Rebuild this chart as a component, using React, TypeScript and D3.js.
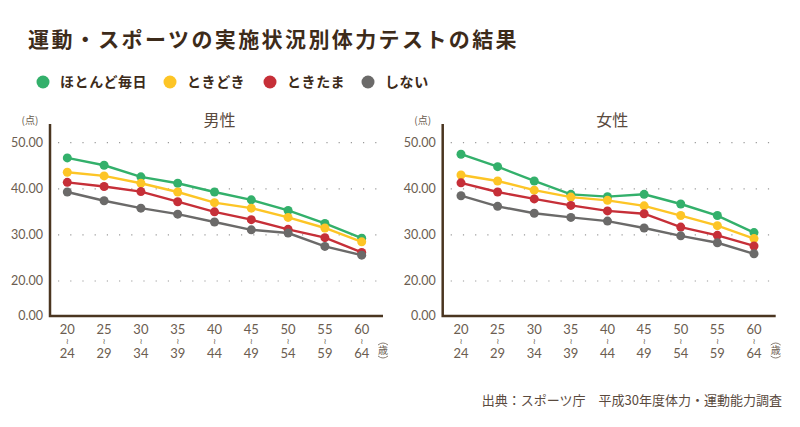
import * as d3 from 'd3';

const ages = ['20', '25', '30', '35', '40', '45', '50', '55', '60'];
const agesEnd = ['24', '29', '34', '39', '44', '49', '54', '59', '64'];
const yTicks = [0, 20, 30, 40, 50];

const seriesNames = ['ほとんど毎日', 'ときどき', 'ときたま', 'しない'];
const seriesColors = ['#33b06b', '#fdc526', '#c62f38', '#6b6a69'];

const maleDaily = [46.7, 45.1, 42.6, 41.2, 39.3, 37.6, 35.3, 32.5, 29.3];
const maleSometimes = [43.6, 42.8, 41.2, 39.3, 37.0, 35.8, 33.8, 31.5, 28.5];
const maleOccasional = [41.4, 40.5, 39.4, 37.2, 35.0, 33.3, 31.2, 29.4, 26.2];
const maleNone = [39.3, 37.4, 35.8, 34.5, 32.8, 31.1, 30.4, 27.5, 25.6];

const femaleDaily = [47.5, 44.8, 41.7, 38.8, 38.3, 38.8, 36.7, 34.2, 30.5];
const femaleSometimes = [43.0, 41.7, 39.7, 38.2, 37.5, 36.3, 34.2, 32.0, 29.2];
const femaleOccasional = [41.3, 39.3, 37.8, 36.4, 35.2, 34.6, 31.7, 29.9, 27.6];
const femaleNone = [38.5, 36.2, 34.7, 33.8, 33.0, 31.5, 29.8, 28.3, 25.9];

const FONT = "'Noto Sans CJK JP', 'Noto Sans', sans-serif";
const TEXT = '#6b5d50';
const AXIS = '#4a3520';

// broken axis: 0-20 squeezed
const yScale = d3.scaleLinear().domain([0, 20, 50]).range([316, 281, 142.7]);

interface PanelProps {
  title: string;
  axisX: number;
  firstX: number;
  lastX: number;
  endX: number;
  data: number[][];
}

const Panel = ({ title, axisX, firstX, lastX, endX, data }: PanelProps) => {
  const xScale = d3.scalePoint<string>().domain(ages).range([firstX, lastX]);
  const line = d3
    .line<number>()
    .x((_, i) => xScale(ages[i]) as number)
    .y((d) => yScale(d));

  return (
    <g fontFamily={FONT}>
      <text x={(axisX + endX) / 2 + 3} y={126} textAnchor='middle' fontSize={16} fill='#5a4a3e'>
        {title}
      </text>
      <text x={axisX - 20} y={124} textAnchor='middle' fontSize={10} fill={TEXT}>
        (点)
      </text>
      {yTicks.map((t) => (
        <g key={t}>
          {t > 0 && (
            <line
              x1={axisX + 8}
              x2={endX + 3}
              y1={yScale(t)}
              y2={yScale(t)}
              stroke='#9a9a9a'
              strokeWidth={1.2}
              strokeDasharray='1.2 11'
            />
          )}
          <text
            x={axisX - 7}
            y={yScale(t)}
            dy='0.35em'
            textAnchor='end'
            fontSize={12.5}
            fill={TEXT}
            fontFamily='Lato, sans-serif'
          >
            {t.toFixed(2)}
          </text>
        </g>
      ))}
      {ages.map((a, i) => {
        const x = xScale(a) as number;
        return (
          <g key={a} fill={TEXT} fontSize={13} textAnchor='middle' fontFamily='Lato, sans-serif'>
            <text x={x} y={334}>{a}</text>
            <text x={x} y={344} fontSize={8} fontFamily='DejaVu Sans'>≀</text>
            <text x={x} y={358}>{agesEnd[i]}</text>
          </g>
        );
      })}
      <g transform={`translate(${endX},350)`} fill='none' stroke={TEXT} strokeWidth={0.8}>
        <path d='M-5,-5 Q0,-9 5,-5' />
        <path d='M-5,6 Q0,10 5,6' />
        <text x={0} y={4} textAnchor='middle' fontSize={10} fill={TEXT} stroke='none'>
          歳
        </text>
      </g>
      {data.map((s, k) => (
        <g key={k}>
          <path d={line(s) ?? ''} fill='none' stroke={seriesColors[k]} strokeWidth={2.4} />
          {s.map((v, i) => (
            <circle
              key={i}
              cx={xScale(ages[i]) as number}
              cy={yScale(v)}
              r={4.5}
              fill={seriesColors[k]}
            />
          ))}
        </g>
      ))}
      <path
        d={`M${axisX},124V316H${endX}`}
        fill='none'
        stroke={AXIS}
        strokeWidth={2.5}
      />
    </g>
  );
};

const legendX = [43, 170, 270, 368];

const App = () => {
  return (
    <svg
      width={800}
      height={427}
      style={{ position: 'absolute', left: 0, top: 0, background: '#fff' }}
    >
      <text
        x={28}
        y={47}
        fontFamily={FONT}
        fontWeight='bold'
        fontSize={21}
        letterSpacing={2.4}
        fill='#3d2b1a'
      >
        運動・スポーツの実施状況別体力テストの結果
      </text>
      {seriesNames.map((n, i) => (
        <g key={n}>
          <circle cx={legendX[i]} cy={82} r={6.5} fill={seriesColors[i]} />
          <text
            x={legendX[i] + 17}
            y={82}
            dy='0.35em'
            fontFamily={FONT}
            fontWeight='bold'
            fontSize={14}
            letterSpacing={0.6}
            fill='#3d2b1a'
          >
            {n}
          </text>
        </g>
      ))}
      <Panel
        title='男性'
        axisX={50}
        firstX={67.3}
        lastX={361.7}
        endX={383}
        data={[maleDaily, maleSometimes, maleOccasional, maleNone]}
      />
      <Panel
        title='女性'
        axisX={442.7}
        firstX={461}
        lastX={754}
        endX={775.7}
        data={[femaleDaily, femaleSometimes, femaleOccasional, femaleNone]}
      />
      <text
        x={782}
        y={400}
        dy='0.35em'
        textAnchor='end'
        fontFamily={FONT}
        fontSize={13}
        fill='#5a4a3e'
      >
        出典：スポーツ庁　平成30年度体力・運動能力調査
      </text>
    </svg>
  );
};

export default App;
